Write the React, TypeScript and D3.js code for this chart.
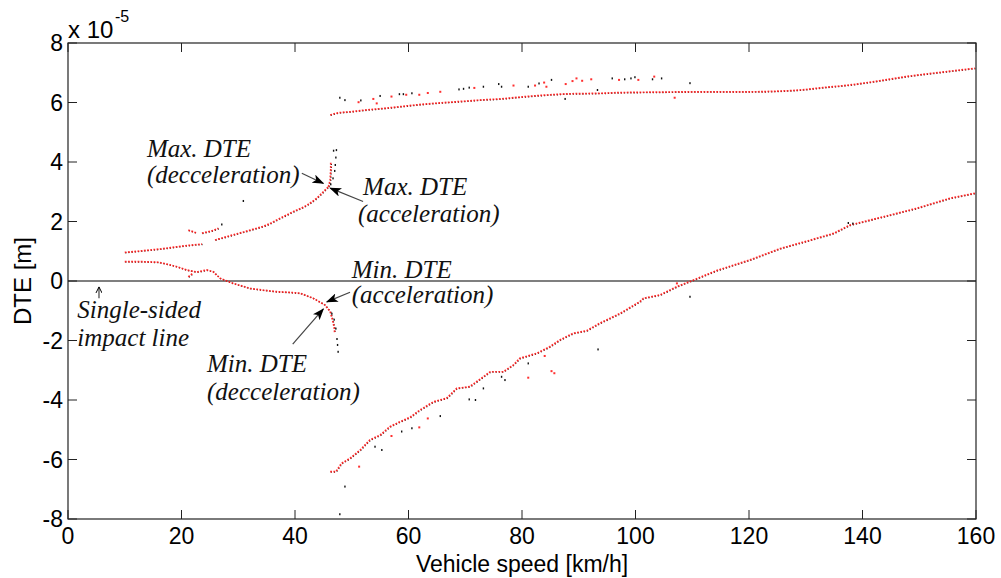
import React from 'react';
import * as d3 from 'd3';

const width = 1001;
const height = 578;

// speed [km/h], DTE [x1e-5 m]
const upperLeftA = [[10.0, 0.96], [12.2, 1.0], [14.4, 1.04], [16.8, 1.09], [19.2, 1.15], [21.4, 1.2], [23.6, 1.24]];
const upperLeftB = [[25.9, 1.38], [29.1, 1.55], [32.1, 1.71], [35.0, 1.88], [37.4, 2.11], [39.7, 2.33], [42.1, 2.55], [43.8, 2.78], [45.0, 3.0], [45.9, 3.17]];
const upperHookRed = [[45.9, 3.17], [46.2, 3.4], [46.3, 3.75], [46.3, 4.0]];
const upperHookBlack = [[46.3, 3.25], [46.7, 3.45], [47.0, 3.7], [47.1, 3.9], [47.2, 4.15], [47.3, 4.4], [46.8, 4.38]];
const upperFragA = [[21.2, 1.71], [22.0, 1.66], [22.7, 1.61]];
const upperFragB = [[23.6, 1.61], [24.6, 1.65], [25.6, 1.7], [26.5, 1.77]];

const lowerLeft = [[10.0, 0.65], [13.0, 0.65], [15.9, 0.63], [17.6, 0.56], [19.2, 0.48], [20.9, 0.37], [22.7, 0.3], [24.4, 0.37], [25.6, 0.31], [26.8, 0.09], [29.1, -0.08], [32.1, -0.25], [34.5, -0.31], [36.8, -0.36], [38.9, -0.38], [40.9, -0.41], [43.2, -0.58], [44.5, -0.72], [45.3, -0.81], [46.2, -1.03]];
const lowerHookRed = [[46.2, -1.03], [46.6, -1.3], [46.9, -1.55], [47.0, -1.76]];
const lowerHookBlack = [[46.5, -1.1], [46.9, -1.3], [47.2, -1.6], [47.4, -1.95], [47.5, -2.15], [47.6, -2.38]];
const lowerDip = [[21.2, 0.14], [21.6, 0.2], [22.0, 0.26]];

const upperRight = [[46.2, 5.58], [47.3, 5.64], [49.8, 5.69], [52.6, 5.75], [55.5, 5.8], [58.5, 5.86], [61.4, 5.92], [64.4, 5.97], [67.3, 6.01], [70.3, 6.05], [73.2, 6.09], [76.1, 6.12], [79.0, 6.17], [82.0, 6.22], [85.0, 6.26], [87.9, 6.29], [90.8, 6.3], [93.7, 6.31], [96.6, 6.33], [99.6, 6.34], [105.0, 6.35], [110.8, 6.36], [115.0, 6.36], [120.0, 6.36], [125.0, 6.38], [129.0, 6.42], [133.0, 6.5], [137.8, 6.59], [143.0, 6.73], [148.4, 6.89], [154.0, 7.02], [159.8, 7.15]];
const lowerRight = [[46.2, -6.41], [47.2, -6.41], [48.2, -6.13], [49.7, -5.96], [51.5, -5.68], [53.2, -5.34], [55.0, -5.18], [56.7, -4.9], [58.5, -4.73], [60.3, -4.58], [62.0, -4.34], [64.4, -4.06], [66.7, -3.94], [68.5, -3.61], [70.8, -3.55], [73.2, -3.22], [74.4, -3.05], [76.7, -3.05], [78.5, -2.82], [79.6, -2.6], [82.6, -2.43], [84.9, -2.21], [86.7, -1.98], [89.0, -1.76], [91.4, -1.67], [93.7, -1.42], [97.3, -1.09], [100.8, -0.69], [101.4, -0.58], [104.3, -0.47], [107.3, -0.19], [110.2, 0.03], [114.3, 0.35], [120.2, 0.71], [125.5, 1.09], [130.2, 1.34], [134.9, 1.6], [137.8, 1.88], [143.7, 2.16], [149.5, 2.44], [155.4, 2.78], [159.8, 2.95]];

const outliersBlack = [[47.9, 6.16], [48.8, 6.08], [51.6, 6.07], [55.0, 6.22], [58.4, 6.28], [59.1, 6.28], [60.6, 6.31], [68.9, 6.44], [69.7, 6.46], [70.7, 6.5], [73.2, 6.53], [75.9, 6.62], [76.4, 6.53], [81.1, 6.53], [83.0, 6.64], [85.2, 6.76], [87.6, 6.12], [93.3, 6.42], [95.9, 6.81], [98.1, 6.78], [99.2, 6.81], [99.9, 6.85], [103.0, 6.78], [104.6, 6.81], [109.6, 6.65],
  [27.1, 1.9], [30.9, 2.69],
  [47.9, -7.84], [48.8, -6.91], [54.1, -5.57], [55.3, -5.68], [58.8, -5.06], [60.6, -4.95], [65.6, -4.54], [70.7, -3.98], [71.8, -4.0], [73.2, -3.61], [76.4, -3.22], [77.0, -3.33], [81.1, -2.77], [93.4, -2.3], [109.6, -0.53], [137.5, 1.95], [138.3, 1.93]];
const outliersRed = [[51.2, 6.01], [53.8, 6.12], [54.4, 5.97], [57.0, 6.2], [59.6, 6.26], [61.9, 6.26], [63.4, 6.32], [65.6, 6.36], [71.6, 6.49], [78.5, 6.57], [82.3, 6.57], [83.9, 6.67], [84.3, 6.53], [87.7, 6.62], [88.9, 6.72], [89.6, 6.81], [90.6, 6.73], [92.2, 6.78], [97.1, 6.76], [100.5, 6.76], [103.3, 6.87], [106.9, 6.16],
  [51.3, -6.24], [57.0, -5.21], [61.9, -4.92], [63.4, -4.62], [81.1, -3.25], [84.0, -2.52], [85.2, -3.03], [85.7, -3.1], [107.3, -0.08]];

const xTicks = [0, 20, 40, 60, 80, 100, 120, 140, 160];
const yTicks = [-8, -6, -4, -2, 0, 2, 4, 6, 8];

const annotations = [
  { x: 13.9, y: 4.17, text: 'Max. DTE' },
  { x: 13.9, y: 3.28, text: '(decceleration)' },
  { x: 52.0, y: 2.89, text: 'Max. DTE' },
  { x: 51.1, y: 1.98, text: '(acceleration)' },
  { x: 50.0, y: 0.1, text: 'Min. DTE' },
  { x: 50.0, y: -0.74, text: '(acceleration)' },
  { x: 24.5, y: -3.06, text: 'Min. DTE' },
  { x: 24.5, y: -4.0, text: '(decceleration)' },
  { x: 1.64, y: -1.25, text: 'Single-sided' },
  { x: 1.64, y: -2.18, text: 'impact line' },
];
const arrows = [
  { x1: 41.2, y1: 3.62, x2: 45.0, y2: 3.28 },
  { x1: 52.0, y1: 2.67, x2: 46.2, y2: 3.12 },
  { x1: 49.7, y1: -0.38, x2: 45.6, y2: -0.7 },
  { x1: 39.6, y1: -2.12, x2: 45.0, y2: -0.94 },
];

const left = 68, right = 976, top = 43, bottom = 519;
const x = d3.scaleLinear().domain([0, 160]).range([left, right]);
const y = d3.scaleLinear().domain([-8, 8]).range([bottom, top]);
const line = d3.line<number[]>().x(d => x(d[0])).y(d => y(d[1])).curve(d3.curveMonotoneX);
const lineLin = d3.line<number[]>().x(d => x(d[0])).y(d => y(d[1]));

const Branch = ({ data, mono = true }: { data: number[][]; mono?: boolean }) => {
  const p = (mono ? line : lineLin)(data) || '';
  return (
    <g fill="none">
      <path d={p} stroke="#222" strokeWidth={1.3} strokeDasharray="1 2.2" transform="translate(0.6,0.4)" />
      <path d={p} stroke="#ff1a1a" strokeWidth={1.7} strokeDasharray="1.8 1.4" opacity={0.9} />
    </g>
  );
};

export default function App() {
  const tickFont = { fontFamily: 'Liberation Sans, Arial, sans-serif', fontSize: 23, fill: '#000' };
  const annFont = { fontFamily: 'Liberation Serif, Times New Roman, serif', fontStyle: 'italic', fontSize: 25, fill: '#111' };
  return (
    <svg width={width} height={height} style={{ position: 'absolute', left: 0, top: 0, background: '#fff' }}>
      <defs>
        <marker id="ah" markerWidth={12} markerHeight={9} refX={11} refY={4.5} orient="auto" markerUnits="userSpaceOnUse">
          <path d="M0,0 L12,4.5 L0,9 L3,4.5 z" fill="#000" />
        </marker>
        <marker id="ah2" markerWidth={7} markerHeight={7} refX={6} refY={3.5} orient="auto" markerUnits="userSpaceOnUse">
          <path d="M0,0.5 L6,3.5 L0,6.5" fill="none" stroke="#000" strokeWidth={1} />
        </marker>
      </defs>
      <rect x={0} y={0} width={width} height={height} fill="#fff" />

      {/* zero line */}
      <line x1={x(0)} x2={x(160)} y1={y(0)} y2={y(0)} stroke="#000" strokeWidth={1.2} />

      <Branch data={upperLeftA} />
      <Branch data={upperLeftB} />
      <Branch data={upperHookRed} mono={false} />
      <Branch data={upperFragA} mono={false} />
      <Branch data={upperFragB} mono={false} />
      <Branch data={lowerLeft} mono={false} />
      <Branch data={lowerHookRed} mono={false} />
      <Branch data={lowerDip} mono={false} />
      <Branch data={upperRight} />
      <Branch data={lowerRight} mono={false} />

      {[...upperHookBlack, ...lowerHookBlack, ...outliersBlack].map((d, i) => (
        <rect key={'b' + i} x={x(d[0]) - 0.7} y={y(d[1]) - 1} width={1.4} height={2} fill="#111" />
      ))}
      {outliersRed.map((d, i) => (
        <rect key={'r' + i} x={x(d[0]) - 1} y={y(d[1]) - 1} width={2} height={2} fill="#ff3030" />
      ))}

      {/* axes box */}
      <rect x={left} y={top} width={right - left} height={bottom - top} fill="none" stroke="#222" strokeWidth={1.2} />
      {xTicks.map(t => (
        <g key={'x' + t}>
          <line x1={x(t)} x2={x(t)} y1={bottom} y2={bottom - 9} stroke="#222" />
          <line x1={x(t)} x2={x(t)} y1={top} y2={top + 9} stroke="#222" />
          <text x={x(t)} y={bottom + 25} textAnchor="middle" {...tickFont}>{t}</text>
        </g>
      ))}
      {yTicks.map(t => (
        <g key={'y' + t}>
          <line x1={left} x2={left + 9} y1={y(t)} y2={y(t)} stroke="#222" />
          <line x1={right} x2={right - 9} y1={y(t)} y2={y(t)} stroke="#222" />
          <text x={left - 5} y={y(t) + 8} textAnchor="end" {...tickFont}>{t}</text>
        </g>
      ))}
      <text x={left} y={38} {...tickFont} fontSize={24}>x 10</text>
      <text x={115} y={22} {...tickFont} fontSize={16}>-5</text>
      <text x={(left + right) / 2} y={572} textAnchor="middle" {...tickFont} fontSize={23}>Vehicle speed [km/h]</text>
      <text transform={`translate(31,${y(0)}) rotate(-90)`} textAnchor="middle" {...tickFont} fontSize={24}>DTE [m]</text>

      {annotations.map((a, i) => (
        <text key={'a' + i} x={x(a.x)} y={y(a.y)} {...annFont}>{a.text}</text>
      ))}
      {arrows.map((a, i) => (
        <line key={'ar' + i} x1={x(a.x1)} y1={y(a.y1)} x2={x(a.x2)} y2={y(a.y2)} stroke="#444" strokeWidth={1.2} markerEnd="url(#ah)" />
      ))}
      <line x1={x(5.46)} y1={y(-0.58)} x2={x(5.46)} y2={y(-0.2)} stroke="#000" strokeWidth={0.9} markerEnd="url(#ah2)" />
    </svg>
  );
}
